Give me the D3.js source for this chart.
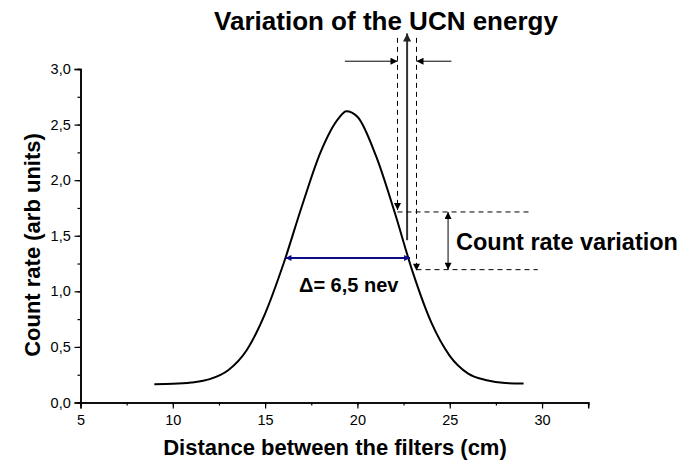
<!DOCTYPE html>
<html>
<head>
<meta charset="utf-8">
<script src="https://cdn.jsdelivr.net/npm/d3@7"></script>
<style>
  body { margin: 0; background: #fff; }
  svg { font-family: "Liberation Sans", Arial, sans-serif; }
</style>
</head>
<body>
<svg width="691" height="464"></svg>
<script>
// curve values
const distance = [9, 10, 11, 12, 13, 14, 15, 16, 17, 18, 19, 19.4, 20, 21, 22, 23, 24, 25, 26, 27, 28, 29];
const countRate = [0.165, 0.168, 0.18, 0.21, 0.29, 0.47, 0.80, 1.25, 1.77, 2.25, 2.56, 2.62, 2.57, 2.22, 1.72, 1.17, 0.72, 0.42, 0.26, 0.20, 0.175, 0.17];
const xTicks = [5, 10, 15, 20, 25, 30];
const yTicks = [0, 0.5, 1.0, 1.5, 2.0, 2.5, 3.0];

// annotation positions in data units
const widthArrow = { x1: 16.1, x2: 22.85, y: 1.30 };
const energyLow = 22.17, energyHigh = 23.2, energyMid = 22.69;
const rateHigh = 1.714, rateLow = 1.195;

const svg = d3.select("svg");

const x = d3.scaleLinear().domain([5, 32.5]).range([80.5, 588.2]);
const y = d3.scaleLinear().domain([0, 3]).range([402.5, 69]);

const fmt = d => d3.format(".1f")(d).replace(".", ",");

// markers
const defs = svg.append("defs");
function marker(id, color, w, h) {
  defs.append("marker")
    .attr("id", id)
    .attr("viewBox", "0 -5 10 10")
    .attr("refX", 10).attr("refY", 0)
    .attr("markerUnits", "userSpaceOnUse")
    .attr("markerWidth", w).attr("markerHeight", h)
    .attr("orient", "auto-start-reverse")
    .append("path")
    .attr("d", "M0,-5L10,0L0,5Z")
    .attr("fill", color);
}
marker("blk", "#000", 9, 7);
marker("big", "#222", 11, 8);
marker("blue", "#0b0b8a", 9, 6);

// axes
const xAxis = svg.append("g").attr("transform", "translate(0," + y(0) + ")");
xAxis.call(d3.axisBottom(x).tickValues(d3.range(5, 32.6, 2.5)).tickSize(3).tickFormat(""));
xAxis.append("g").call(d3.axisBottom(x).tickValues(xTicks).tickSize(6).tickFormat(d => d));
xAxis.selectAll(".domain").attr("stroke-width", 1.5);

const yAxis = svg.append("g").attr("transform", "translate(" + x(5) + ",0)");
yAxis.call(d3.axisLeft(y).tickValues(d3.range(0, 3.01, 0.25)).tickSize(3).tickFormat(""));
yAxis.append("g").call(d3.axisLeft(y).tickValues(yTicks).tickSize(6).tickFormat(fmt));
yAxis.selectAll(".domain").attr("stroke-width", 1.5);

svg.selectAll(".tick line").attr("stroke-width", 1.2);
svg.selectAll(".tick text")
  .style("font-family", "'Liberation Sans', Arial, sans-serif")
  .style("font-size", "14.5px")
  .attr("fill", "#000");
xAxis.selectAll(".tick text").attr("dy", "0.95em");
yAxis.selectAll(".tick text").attr("dx", "-0.05em");

// curve
const pts = distance.map((d, i) => [d, countRate[i]]);
svg.append("path")
  .datum(pts)
  .attr("fill", "none")
  .attr("stroke", "#000")
  .attr("stroke-width", 2)
  .attr("d", d3.line().x(d => x(d[0])).y(d => y(d[1])).curve(d3.curveMonotoneX));

// width arrow
svg.append("line")
  .attr("x1", x(widthArrow.x1)).attr("x2", x(widthArrow.x2))
  .attr("y1", y(widthArrow.y)).attr("y2", y(widthArrow.y))
  .attr("stroke", "#0b0b8a").attr("stroke-width", 2)
  .attr("marker-start", "url(#blue)").attr("marker-end", "url(#blue)");

svg.append("text")
  .attr("x", 299).attr("y", 292)
  .style("font-size", "20px").style("font-weight", "bold")
  .text("\u0394= 6,5 nev");

// energy variation
const dash = "5,4";
svg.append("line")
  .attr("x1", x(energyLow)).attr("x2", x(energyLow))
  .attr("y1", y(3.28)).attr("y2", y(rateHigh) - 2)
  .attr("stroke", "#000").attr("stroke-dasharray", dash)
  .attr("marker-end", "url(#blk)");
svg.append("line")
  .attr("x1", x(energyHigh)).attr("x2", x(energyHigh))
  .attr("y1", y(3.28)).attr("y2", y(rateLow) + 1)
  .attr("stroke", "#000").attr("stroke-dasharray", dash)
  .attr("marker-end", "url(#blk)");
svg.append("line")
  .attr("x1", x(energyMid)).attr("x2", x(energyMid))
  .attr("y1", y(1.46)).attr("y2", y(3.32))
  .attr("stroke", "#333").attr("stroke-width", 2)
  .attr("marker-end", "url(#big)");
svg.append("line")
  .attr("x1", x(19.32)).attr("x2", x(energyLow))
  .attr("y1", y(3.07)).attr("y2", y(3.07))
  .attr("stroke", "#000").attr("marker-end", "url(#blk)");
svg.append("line")
  .attr("x1", x(25.09)).attr("x2", x(energyHigh))
  .attr("y1", y(3.07)).attr("y2", y(3.07))
  .attr("stroke", "#000").attr("marker-end", "url(#blk)");

// count rate variation
svg.append("line")
  .attr("x1", x(energyLow)).attr("x2", x(29.42))
  .attr("y1", y(rateHigh)).attr("y2", y(rateHigh))
  .attr("stroke", "#000").attr("stroke-dasharray", dash);
svg.append("line")
  .attr("x1", x(energyHigh)).attr("x2", x(29.77))
  .attr("y1", y(rateLow)).attr("y2", y(rateLow))
  .attr("stroke", "#000").attr("stroke-dasharray", dash);
svg.append("line")
  .attr("x1", x(24.91)).attr("x2", x(24.91))
  .attr("y1", y(rateHigh)).attr("y2", y(rateLow))
  .attr("stroke", "#000")
  .attr("marker-start", "url(#blk)").attr("marker-end", "url(#blk)");

svg.append("text")
  .attr("x", 456).attr("y", 250)
  .style("font-size", "23.5px").style("font-weight", "bold")
  .text("Count rate variation");

svg.append("text")
  .attr("x", 386).attr("y", 30)
  .attr("text-anchor", "middle")
  .style("font-size", "26px").style("font-weight", "bold")
  .text("Variation of the UCN energy");

// axis titles
svg.append("text")
  .attr("x", 335).attr("y", 455)
  .attr("text-anchor", "middle")
  .style("font-size", "22px").style("font-weight", "bold")
  .text("Distance between the filters (cm)");

svg.append("text")
  .attr("transform", "translate(40," + 245 + ") rotate(-90)")
  .attr("text-anchor", "middle")
  .style("font-size", "22px").style("font-weight", "bold")
  .text("Count rate (arb units)");
</script>
</body>
</html>
